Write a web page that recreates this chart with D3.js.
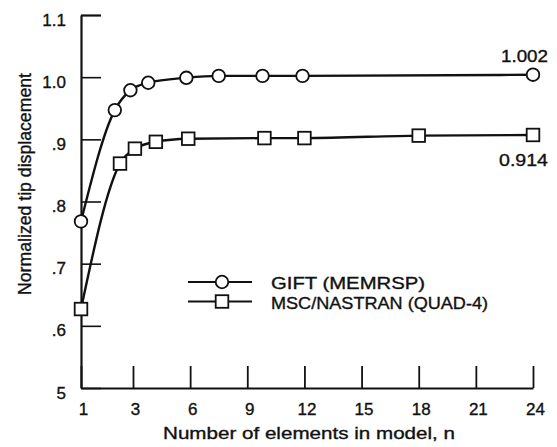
<!DOCTYPE html>
<html>
<head>
<meta charset="utf-8">
<script src="https://cdn.jsdelivr.net/npm/d3@7"></script>
<style>
  body { margin: 0; background: #fff; }
  svg text { font-family: "Liberation Sans", Arial, sans-serif; fill: #111; stroke: #111; stroke-width: 0.35px; }
</style>
</head>
<body>
<div class="chart"></div>
<script>
// values
const giftN = [1, 2.3, 2.9, 3.8, 5.8, 7.5, 9.8, 11.9, 24];
const giftV = [0.768, 0.947, 0.979, 0.991, 0.999, 1.002, 1.002, 1.002, 1.004];
const nastranN = [1, 2.5, 3.1, 4.2, 5.9, 9.9, 12, 18, 24];
const nastranV = [0.627, 0.861, 0.885, 0.896, 0.901, 0.902, 0.902, 0.906, 0.907];

const xTicks = [1, 3, 6, 9, 12, 15, 18, 21, 24];
const yTicks = [0.5, 0.6, 0.7, 0.8, 0.9, 1.0, 1.1];
const yTickLabels = ["5", ".6", ".7", ".8", ".9", "1.0", "1.1"];
const seriesNames = ["GIFT (MEMRSP)", "MSC/NASTRAN (QUAD-4)"];
const endLabels = ["1.002", "0.914"];

let width = 557, height = 447;

const svg = d3.select(".chart")
  .append("svg")
  .attr("width", width)
  .attr("height", height);

// the drawn axis squeezes the 1..3 span a bit
let x = d3.scaleLinear().domain([1, 3, 24]).range([81, 133, 533]);
let y = d3.scaleLinear().domain([0.5, 1.1]).range([388, 15]);

// y axis, ticks pointing inward
let gy = svg.append("g")
  .attr("transform", "translate(" + x(1) + ",0)")
  .call(d3.axisLeft(y).tickValues(yTicks).tickSize(-20).tickSizeOuter(0).tickPadding(15)
    .tickFormat((d, i) => yTickLabels[i]));
gy.select(".domain").attr("stroke", "#111").attr("stroke-width", 2.2);
gy.selectAll(".tick line").attr("stroke", "#111").attr("stroke-width", 1.6);
gy.selectAll(".tick text").attr("dy", 10).attr("font-size", 17).attr("fill", "#111");
gy.selectAll(".tick").filter(d => d === 1.1).select("line").attr("stroke-width", 2.2);

// x axis
let gx = svg.append("g")
  .attr("transform", "translate(0," + y(0.5) + ")")
  .call(d3.axisBottom(x).tickValues(xTicks).tickSize(-22).tickSizeOuter(0).tickPadding(12)
    .tickFormat(d3.format("d")));
gx.select(".domain").attr("stroke", "#111").attr("stroke-width", 2.2);
gx.selectAll(".tick line").attr("stroke", "#111").attr("stroke-width", 1.8);
gx.selectAll(".tick text").attr("dy", 15).attr("dx", 2).attr("font-size", 17).attr("fill", "#111");

// axis titles
svg.append("text")
  .attr("x", 163).attr("y", 439)
  .attr("font-size", 17)
  .attr("textLength", 292).attr("lengthAdjust", "spacingAndGlyphs")
  .text("Number of elements in model, n");

svg.append("text")
  .attr("transform", "translate(31,295) rotate(-90)")
  .attr("font-size", 17.5)
  .attr("textLength", 222).attr("lengthAdjust", "spacingAndGlyphs")
  .text("Normalized tip displacement");

let gift = giftN.map((n, i) => ({n: n, v: giftV[i]}));
let nastran = nastranN.map((n, i) => ({n: n, v: nastranV[i]}));

let line = d3.line()
  .x(d => x(d.n))
  .y(d => y(d.v))
  .curve(d3.curveMonotoneX);

svg.append("path").datum(gift)
  .attr("d", line).attr("fill", "none").attr("stroke", "#111").attr("stroke-width", 2.4);
svg.append("path").datum(nastran)
  .attr("d", line).attr("fill", "none").attr("stroke", "#111").attr("stroke-width", 2.4);

svg.selectAll(".gift")
  .data(gift)
  .enter()
  .append("circle")
  .attr("class", "gift")
  .attr("cx", d => x(d.n))
  .attr("cy", d => y(d.v))
  .attr("r", 6.3)
  .attr("fill", "#fff").attr("stroke", "#111").attr("stroke-width", 1.8);

svg.selectAll(".nastran")
  .data(nastran)
  .enter()
  .append("rect")
  .attr("class", "nastran")
  .attr("x", d => x(d.n) - 6.3)
  .attr("y", d => y(d.v) - 6.3)
  .attr("width", 12.6).attr("height", 12.6)
  .attr("fill", "#fff").attr("stroke", "#111").attr("stroke-width", 1.8);

// end values
let lastG = gift[gift.length - 1], lastN = nastran[nastran.length - 1];
svg.append("text")
  .attr("x", x(lastG.n) + 15).attr("y", y(lastG.v) - 13)
  .attr("text-anchor", "end").attr("font-size", 17)
  .attr("textLength", 47).attr("lengthAdjust", "spacingAndGlyphs")
  .text(endLabels[0]);
svg.append("text")
  .attr("x", x(lastN.n) + 15).attr("y", y(lastN.v) + 31)
  .attr("text-anchor", "end").attr("font-size", 17)
  .attr("textLength", 49).attr("lengthAdjust", "spacingAndGlyphs")
  .text(endLabels[1]);

// legend
let legend = svg.append("g").attr("transform", "translate(188,282)");
[0, 1].forEach(function (i) {
  let g = legend.append("g").attr("transform", "translate(0," + (i * 19.5) + ")");
  g.append("line").attr("x1", 0).attr("x2", 64).attr("y1", 0).attr("y2", 0)
    .attr("stroke", "#111").attr("stroke-width", 2.2);
  if (i === 0) {
    g.append("circle").attr("cx", 34).attr("cy", 0).attr("r", 6.3)
      .attr("fill", "#fff").attr("stroke", "#111").attr("stroke-width", 1.8);
  } else {
    g.append("rect").attr("x", 27.7).attr("y", -6.3).attr("width", 12.6).attr("height", 12.6)
      .attr("fill", "#fff").attr("stroke", "#111").attr("stroke-width", 1.8);
  }
  g.append("text").attr("x", 83).attr("y", 7)
    .attr("font-size", 17)
    .attr("textLength", i === 0 ? 154 : 217).attr("lengthAdjust", "spacingAndGlyphs")
    .text(seriesNames[i]);
});
</script>
</body>
</html>
